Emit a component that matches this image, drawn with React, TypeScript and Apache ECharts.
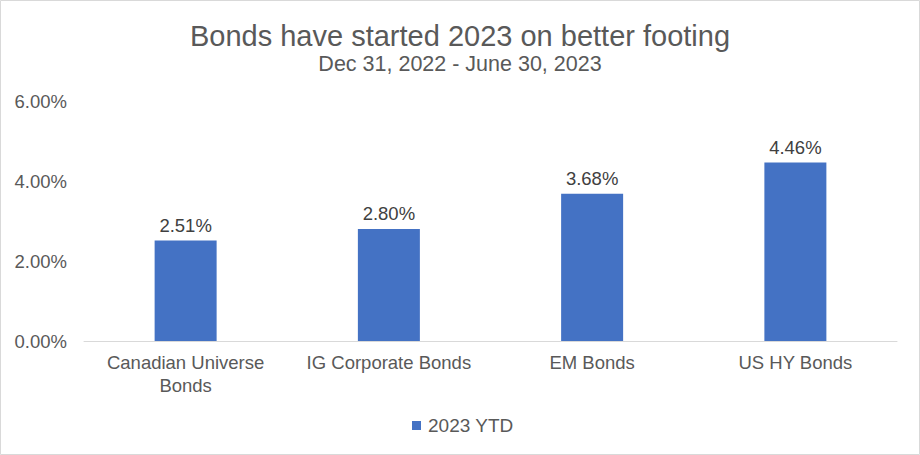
import React, { useEffect, useRef } from "react";
import * as echarts from "echarts";

const categories = ["Canadian Universe\nBonds", "IG Corporate Bonds", "EM Bonds", "US HY Bonds"];
const values = [2.51, 2.8, 3.68, 4.46];
const seriesName = "2023 YTD";
const titleText = "Bonds have started 2023 on better footing";
const subtitleText = "Dec 31, 2022 - June 30, 2023";

const FONT = "'Liberation Sans', Arial, sans-serif";

export default function App() {
  const ref = useRef<HTMLDivElement>(null);
  useEffect(() => {
    const chart = echarts.init(ref.current!, undefined, { renderer: "svg" });
    chart.setOption({
      animation: false,
      backgroundColor: "#ffffff",
      textStyle: { fontFamily: FONT },
      title: [
        {
          text: titleText,
          left: "center",
          top: 16,
          textStyle: { fontSize: 29, fontWeight: "normal", color: "#595959", fontFamily: FONT },
        },
        {
          text: subtitleText,
          left: "center",
          top: 48,
          textStyle: { fontSize: 21.5, fontWeight: "normal", color: "#595959", fontFamily: FONT },
        },
      ],
      graphic: [
        {
          type: "rect",
          shape: { x: 0.5, y: 0.5, width: 919, height: 454 },
          style: { fill: "none", stroke: "#d9d9d9", lineWidth: 1 },
          silent: true,
        },
      ],
      legend: {
        top: 411,
        left: 407,
        itemWidth: 9,
        itemHeight: 9,
        itemGap: 10,
        icon: "rect",
        textStyle: { fontSize: 19, color: "#595959", fontFamily: FONT, padding: [0, 0, 0, 2] },
        data: [seriesName],
      },
      grid: { left: 84, right: 23, top: 101, bottom: 114, containLabel: false },
      xAxis: {
        type: "category",
        data: categories,
        axisLine: { lineStyle: { color: "#d9d9d9", width: 1 } },
        axisTick: { show: false },
        axisLabel: {
          fontSize: 18.5,
          color: "#595959",
          margin: 10,
          lineHeight: 23,
          interval: 0,
          fontFamily: FONT,
        },
      },
      yAxis: {
        type: "value",
        min: 0,
        max: 6,
        interval: 2,
        splitLine: { show: false },
        axisLine: { show: false },
        axisTick: { show: false },
        axisLabel: {
          fontSize: 18.5,
          color: "#595959",
          margin: 17,
          fontFamily: FONT,
          formatter: (v: number) => v.toFixed(2) + "%",
        },
      },
      series: [
        {
          name: seriesName,
          type: "bar",
          data: values,
          barWidth: 62,
          itemStyle: { color: "#4472c4" },
          label: {
            show: true,
            position: "top",
            distance: 6,
            fontSize: 18.5,
            color: "#404040",
            fontFamily: FONT,
            formatter: (p: any) => p.value.toFixed(2) + "%",
          },
        },
      ],
    });
    return () => chart.dispose();
  }, []);
  return (
    <div
      ref={ref}
      style={{ position: "fixed", left: 0, top: 0, width: 920, height: 455 }}
    />
  );
}
